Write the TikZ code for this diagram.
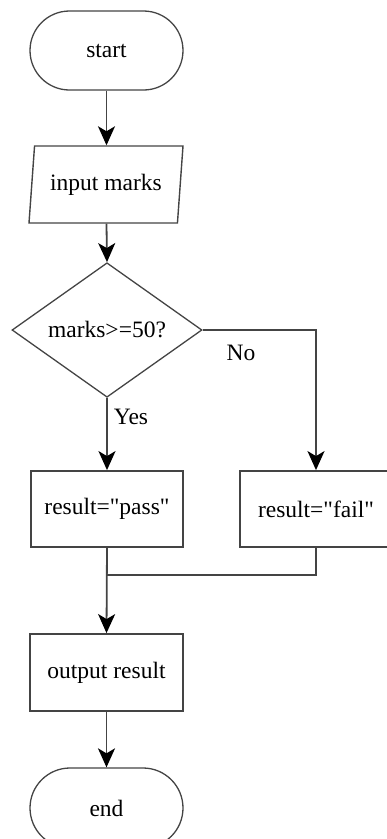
\documentclass[tikz,border=0pt]{standalone}
\usepackage{fontspec}
\newfontfamily\lserif{Liberation Serif}
\usetikzlibrary{arrows.meta,shapes.geometric}
\definecolor{lc}{HTML}{444444}
\begin{document}
\begin{tikzpicture}[x=1pt,y=-1pt,
  every node/.style={font=\lserif\fontsize{23.5}{26}\selectfont},
  terminal/.style={draw=lc,line width=1.3pt,rounded corners=39.5pt,minimum width=153pt,minimum height=79pt,inner sep=0pt},
  procbox/.style={draw=lc,line width=1.8pt,minimum width=152pt,minimum height=76pt,inner sep=0pt},
  iobox/.style={draw=lc,line width=1.4pt,trapezium,trapezium left angle=75.4,trapezium right angle=104.6,trapezium stretches body=true,minimum width=154pt,minimum height=77pt,inner sep=0pt},
  decision/.style={draw=lc,line width=1.3pt,diamond,minimum width=190pt,minimum height=96pt,inner sep=0pt},
  conn/.style={draw=lc,line width=1.8pt},
  arr/.style={conn,-{Stealth[color=black,length=19pt,width=17pt,inset=5pt]}},
  lbl/.style={inner sep=0pt}
]
\useasboundingbox (0,0) rectangle (387,839);
\node[terminal] (start) at (106.5,50.5) {start};
\node[iobox] (input) at (106,184.5) {input marks};
\node[decision] (dec) at (107,330) {marks>=50?};
\node[procbox] (pass) at (107,509) {result="pass"};
\node[procbox] (fail) at (316,509) {result="fail"};
\node[procbox,minimum width=153pt,minimum height=77pt] (out) at (106.5,672.5) {output result};
\node[terminal,minimum height=80pt,rounded corners=40pt] (end) at (106.5,808) {end};
\coordinate (m) at (107,575);
\draw[arr] (start.south) -- (start.south |- input.north);
\draw[arr] (input.south -| start.south) -- (dec.north);
\draw[arr] (dec.south) -- (pass.north);
\node[lbl] (yes) at (131,417) {Yes};
\draw[arr] (dec.east) -| (fail.north);
\node[lbl] (no) at (241,353) {No};
\draw[conn] (fail.south) |- (m);
\draw[arr] (pass.south) -- (out.north);
\draw[arr] (out.south) -- (end.north);
\end{tikzpicture}
\end{document}
